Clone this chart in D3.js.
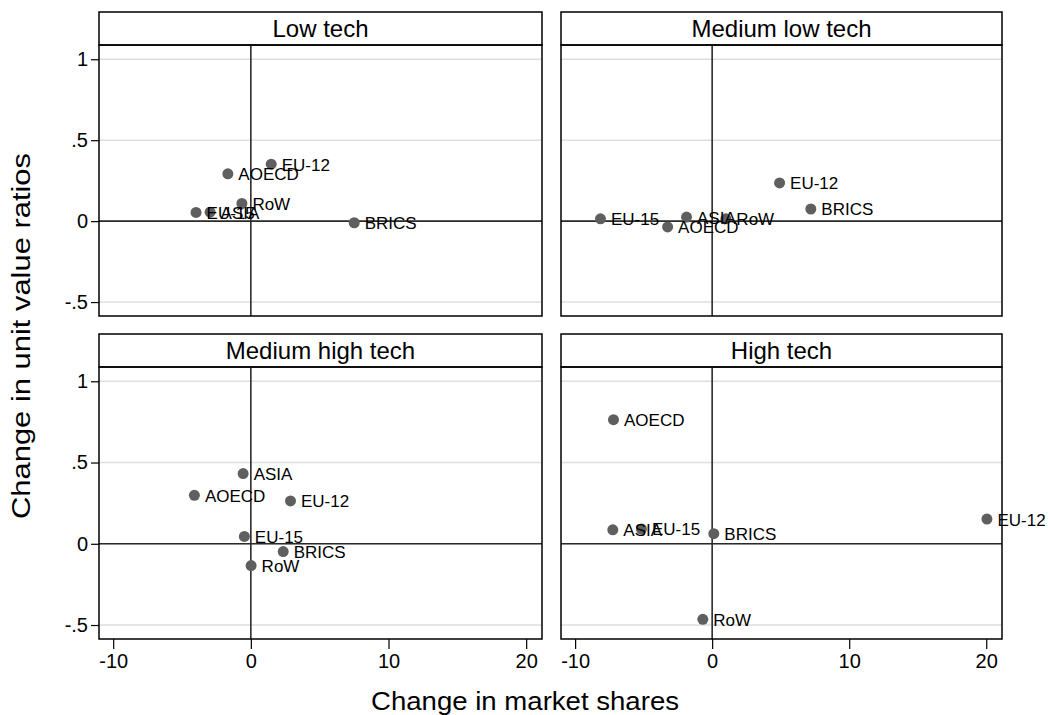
<!DOCTYPE html>
<html>
<head>
<meta charset="utf-8">
<script src="https://cdn.jsdelivr.net/npm/d3@7"></script>
<style>
  body { margin: 0; background: #fff; }
  text { font-family: "Liberation Sans", Arial, Helvetica, sans-serif; }
</style>
</head>
<body>
<div id="container"></div>
<script>
// regions, same order in every panel
const regions = ["EU-15", "EU-12", "AOECD", "ASIA", "BRICS", "RoW"];
const panelTitles = ["Low tech", "Medium low tech", "Medium high tech", "High tech"];

// change in market shares (x) and change in unit value ratios (y)
const lowTechX = [-3.98, 1.48, -1.67, -2.96, 7.51, -0.65];
const lowTechY = [0.054, 0.352, 0.292, 0.055, -0.010, 0.109];
const medLowX = [-8.15, 4.92, -3.25, -1.87, 7.20, 1.00];
const medLowY = [0.014, 0.236, -0.036, 0.025, 0.075, 0.014];
const medHighX = [-0.47, 2.88, -4.10, -0.56, 2.35, 0.02];
const medHighY = [0.045, 0.264, 0.298, 0.432, -0.048, -0.134];
const highTechX = [-5.16, 20.05, -7.20, -7.25, 0.12, -0.68];
const highTechY = [0.091, 0.152, 0.764, 0.086, 0.062, -0.465];

const xTicks = [-10, 0, 10, 20];
const xTickLabels = ["-10", "0", "10", "20"];
const yTicks = [-0.5, 0, 0.5, 1];
const yTickLabels = ["-.5", "0", ".5", "1"];

const width = 1050, height = 715;
const svg = d3.select("#container").append("svg")
    .attr("width", width).attr("height", height);

// panel boxes (plot area only, strip sits above)
const cols = [[99, 542], [561, 1002]];
const rows = [[45, 316], [367, 639]];
const stripH = 33;

const xScaleFor = c => d3.scaleLinear().domain([-11.03, 21.15]).range(cols[c]);
const yScaleFor = r => d3.scaleLinear().domain([-0.586, 1.088]).range([rows[r][1], rows[r][0]]);

const seriesX = [lowTechX, medLowX, medHighX, highTechX];
const seriesY = [lowTechY, medLowY, medHighY, highTechY];

panelTitles.forEach((title, i) => {
    const c = i % 2, r = Math.floor(i / 2);
    const xScale = xScaleFor(c), yScale = yScaleFor(r);
    const [x0, x1] = cols[c], [y0, y1] = rows[r];
    const g = svg.append("g");

    // strip
    g.append("rect")
        .attr("x", x0).attr("y", y0 - stripH)
        .attr("width", x1 - x0).attr("height", stripH)
        .attr("fill", "#fff").attr("stroke", "#000").attr("stroke-width", 1.5);
    g.append("text")
        .attr("x", (x0 + x1) / 2).attr("y", y0 - 8)
        .attr("text-anchor", "middle")
        .style("font-size", "24px")
        .text(title);

    // gridlines
    g.selectAll(".grid").data(yTicks).enter().append("line")
        .attr("x1", x0).attr("x2", x1)
        .attr("y1", d => yScale(d)).attr("y2", d => yScale(d))
        .attr("stroke", "#dedede").attr("stroke-width", 1.5);

    // reference lines at zero
    g.append("line")
        .attr("x1", x0).attr("x2", x1)
        .attr("y1", yScale(0)).attr("y2", yScale(0))
        .attr("stroke", "#2b2b2b").attr("stroke-width", 1.6);
    g.append("line")
        .attr("x1", xScale(0)).attr("x2", xScale(0))
        .attr("y1", y0).attr("y2", y1)
        .attr("stroke", "#2b2b2b").attr("stroke-width", 1.6);

    // plot border
    g.append("rect")
        .attr("x", x0).attr("y", y0)
        .attr("width", x1 - x0).attr("height", y1 - y0)
        .attr("fill", "none").attr("stroke", "#000").attr("stroke-width", 1.5);

    const pts = regions.map((name, k) => ({name: name, x: seriesX[i][k], y: seriesY[i][k]}));

    g.selectAll(".dot").data(pts).enter().append("circle")
        .attr("cx", d => xScale(d.x))
        .attr("cy", d => yScale(d.y))
        .attr("r", 5.5)
        .attr("fill", "#5f5f5f");

    g.selectAll(".lab").data(pts).enter().append("text")
        .attr("x", d => xScale(d.x) + 10.5)
        .attr("y", d => yScale(d.y) + 6.5)
        .style("font-size", "17px")
        .text(d => d.name);

    // axes
    if (c === 0) {
        const yAxis = d3.axisLeft(yScale).tickValues(yTicks)
            .tickFormat((d, k) => yTickLabels[k]).tickSize(8).tickPadding(3);
        const ax = svg.append("g").attr("transform", `translate(${x0},0)`).call(yAxis);
        ax.select(".domain").remove();
        ax.selectAll("line").attr("stroke", "#000").attr("stroke-width", 1.2);
        ax.selectAll("text").style("font-size", "20px").attr("fill", "#000");
    }
    if (r === 1) {
        const xAxis = d3.axisBottom(xScale).tickValues(xTicks)
            .tickFormat((d, k) => xTickLabels[k]).tickSize(10).tickPadding(5);
        const ax = svg.append("g").attr("transform", `translate(0,${y1})`).call(xAxis);
        ax.select(".domain").remove();
        ax.selectAll("line").attr("stroke", "#000").attr("stroke-width", 1.2);
        ax.selectAll("text").style("font-size", "20px").attr("fill", "#000");
    }
});

// axis titles
svg.append("text")
    .attr("x", 525).attr("y", 710)
    .attr("text-anchor", "middle")
    .attr("textLength", 308).attr("lengthAdjust", "spacingAndGlyphs")
    .style("font-size", "25px")
    .text("Change in market shares");

svg.append("text")
    .attr("transform", "translate(30,336) rotate(-90)")
    .attr("text-anchor", "middle")
    .attr("textLength", 366).attr("lengthAdjust", "spacingAndGlyphs")
    .style("font-size", "25px")
    .text("Change in unit value ratios");
</script>
</body>
</html>
